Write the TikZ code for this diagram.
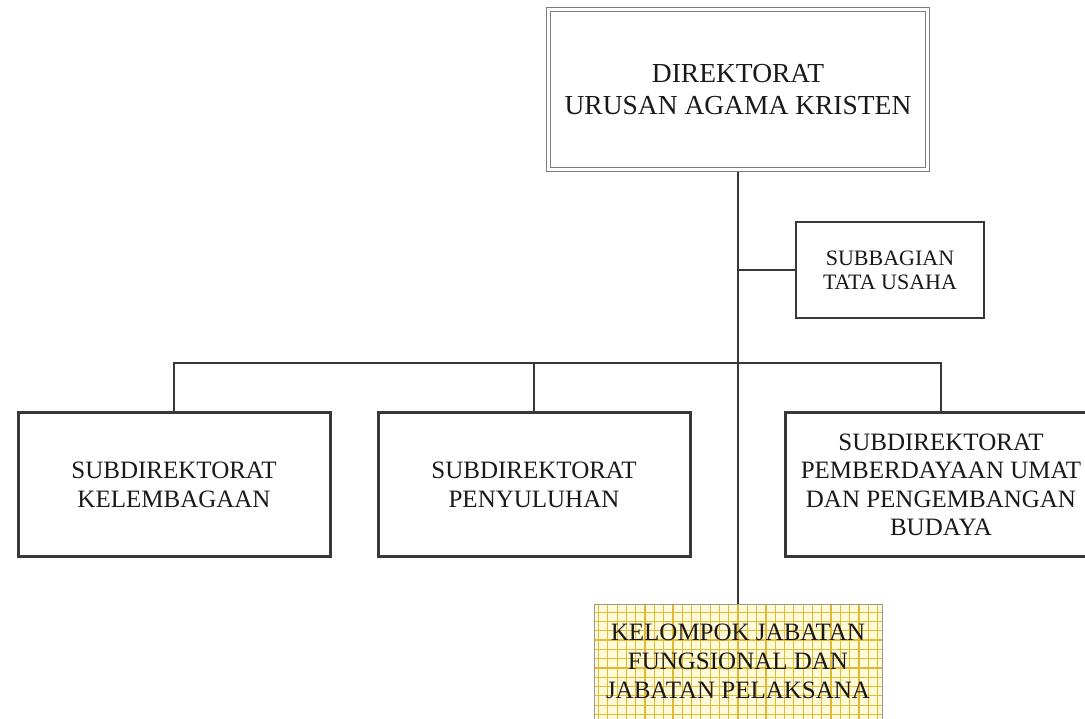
\documentclass[tikz,border=0pt]{standalone}
\usepackage{fontspec}
\setmainfont{Liberation Serif}
\usepackage{xcolor}
\usepackage{tikz}
\usetikzlibrary{positioning}

\definecolor{garis}{HTML}{383838}
\definecolor{bingkai}{HTML}{7C7C7C}
\definecolor{kisi}{HTML}{E2B934}
\definecolor{kuning}{HTML}{FFFBD8}

\begin{document}
\begin{tikzpicture}[x=1pt, y=1pt,
    kotak/.style={draw=garis, line width=3pt, fill=white, align=center, text=black!90,
      minimum width=312pt, minimum height=144pt, font=\fontsize{25}{28.5}\selectfont},
    konektor/.style={draw=garis, line width=2.5pt}]
    \useasboundingbox (0,0) rectangle (1085,718);
    \clip (0,0) rectangle (1085,718);

    \node[draw=bingkai, line width=1.8pt, double=white, double distance=2.2pt, align=center,
      text=black!90, minimum width=379pt, minimum height=160pt,
      font=\fontsize{27.5}{32}\selectfont] (dir) at (738,628.5)
      {DIREKTORAT\\URUSAN AGAMA KRISTEN};
    \node[kotak, line width=2.5pt, minimum width=188pt, minimum height=96pt,
      font=\fontsize{22}{24}\selectfont] (tu) at (890,448) {SUBBAGIAN\\TATA USAHA};

    \node[kotak] (kel) at (174,233) {SUBDIREKTORAT\\KELEMBAGAAN};
    \node[kotak] (pen) at (534,233) {SUBDIREKTORAT\\PENYULUHAN};
    \node[kotak] (pum) at (941,233)
      {SUBDIREKTORAT\\PEMBERDAYAAN UMAT\\DAN PENGEMBANGAN\\BUDAYA};

    \node[draw=gray!80, line width=1pt, fill=kuning, minimum width=288pt, minimum height=126pt,
      path picture={\draw[kisi, line width=1.2pt, step=9.3pt]
        (path picture bounding box.south west) grid (path picture bounding box.north east);},
      label={[name=kjfteks, align=center, text=black!90, yshift=7pt,
        font=\fontsize{25}{29}\selectfont]center:{KELOMPOK JABATAN\\FUNGSIONAL DAN\\JABATAN PELAKSANA}}]
      (kjf) at (738,50) {};

    \coordinate (bar) at (738,355);
    \draw[konektor, shorten <=1.5pt] (dir.south) -- (kjf.north);
    \draw[konektor] (tu.west) -- (tu.west -| dir.south);
    \draw[konektor] (kel.north) |- (bar) -| (pum.north);
    \draw[konektor] (pen.north) -- (pen.north |- bar);
\end{tikzpicture}
\end{document}
